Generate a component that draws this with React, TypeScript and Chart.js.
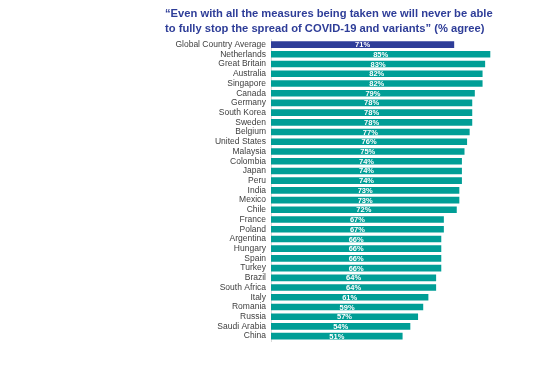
import React, { useEffect, useRef } from "react";
import { Chart, registerables } from "chart.js";

Chart.register(...registerables);

const categories = [
  "Global Country Average", "Netherlands", "Great Britain", "Australia", "Singapore",
  "Canada", "Germany", "South Korea", "Sweden", "Belgium", "United States", "Malaysia",
  "Colombia", "Japan", "Peru", "India", "Mexico", "Chile", "France", "Poland",
  "Argentina", "Hungary", "Spain", "Turkey", "Brazil", "South Africa", "Italy",
  "Romania", "Russia", "Saudi Arabia", "China",
];
const values = [
  71, 85, 83, 82, 82, 79, 78, 78, 78, 77, 76, 75, 74, 74, 74, 73, 73, 72, 67, 67,
  66, 66, 66, 66, 64, 64, 61, 59, 57, 54, 51,
];
const titleLines = [
  "\u201CEven with all the measures being taken we will never be able",
  "to fully stop the spread of COVID-19 and variants\u201D (% agree)",
];
const avgColor = "#2E3D98";
const countryColor = "#009E96";

const barLabels = {
  id: "barLabels",
  afterDatasetsDraw(chart: any) {
    const ctx = chart.ctx;
    const meta = chart.getDatasetMeta(0);
    ctx.save();
    ctx.fillStyle = "#ffffff";
    ctx.font = "bold 7.5px 'Liberation Sans', Arial, sans-serif";
    ctx.textAlign = "center";
    ctx.textBaseline = "middle";
    meta.data.forEach((el: any, i: number) => {
      const cx = (el.x + el.base) / 2;
      ctx.fillText(values[i] + "%", cx, el.y + 0.5);
    });
    ctx.restore();
  },
};

export default function App() {
  const ref = useRef<HTMLCanvasElement>(null);
  useEffect(() => {
    if (!ref.current) return;
    const chart = new Chart(ref.current, {
      type: "bar",
      data: {
        labels: categories,
        datasets: [
          {
            data: values,
            backgroundColor: categories.map((_, i) => (i === 0 ? avgColor : countryColor)),
            categoryPercentage: 1,
            barPercentage: 0.68,
          },
        ],
      },
      options: {
        indexAxis: "y",
        animation: false,
        responsive: false,
        layout: { padding: { left: 165, right: 11, top: 0, bottom: 34 } },
        plugins: {
          legend: { display: false },
          tooltip: { enabled: false },
          title: {
            display: true,
            text: titleLines,
            align: "start",
            color: avgColor,
            font: { family: "'Liberation Sans', Arial, sans-serif", size: 11.2, weight: "bold", lineHeight: 1.35 },
            padding: { top: 6, bottom: 3.5 },
          },
        },
        scales: {
          x: { display: false, min: 0, max: 100 },
          y: {
            afterFit: (axis: any) => {
              axis.width = 106;
            },
            grid: { display: false, drawTicks: false },
            border: { display: true, color: "#d9d9d9", width: 1 },
            ticks: {
              padding: 5,
              color: "#404040",
              autoSkip: false,
              font: { family: "'Liberation Sans', Arial, sans-serif", size: 8.5 },
            },
          },
        },
      },
      plugins: [barLabels],
    });
    return () => chart.destroy();
  }, []);
  return (
    <div style={{ position: "fixed", left: 0, top: 0, width: 540, height: 375, background: "#fff" }}>
      <canvas ref={ref} width={540} height={375} style={{ width: 540, height: 375 }} />
    </div>
  );
}
